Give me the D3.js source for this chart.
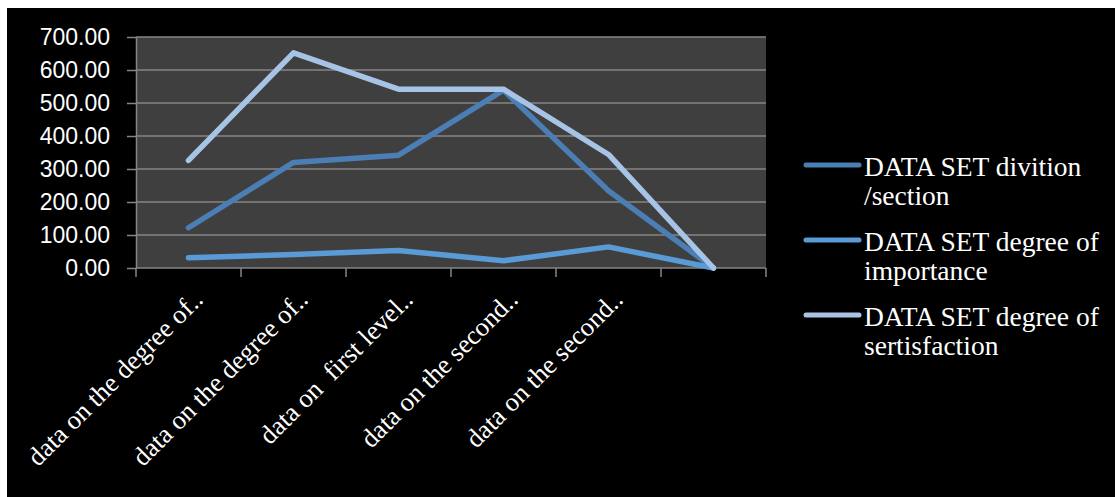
<!DOCTYPE html>
<html>
<head>
<meta charset="utf-8">
<script src="https://cdn.jsdelivr.net/npm/d3@7"></script>
<style>
  body { margin: 0; background: #fff; }
  svg { display: block; }
</style>
</head>
<body>
<script>
const categories = [
  'data on the degree of..',
  'data on the degree of..',
  'data on  first level..',
  'data on the second..',
  'data on the second..',
  ''
];
const seriesNames = [
  ['DATA SET divition', '/section'],
  ['DATA SET degree of', 'importance'],
  ['DATA SET degree of', 'sertisfaction']
];
const divitionSection = [122, 320, 342, 539, 234, 0];
const degreeImportance = [31, 41, 53, 22, 64, 0];
const degreeSatisfaction = [326, 652, 542, 542, 344, 0];
const yTicks = [0, 100, 200, 300, 400, 500, 600, 700];

const seriesColors = ['#4a7eb5', '#599bd6', '#a7c4e6'];
const allSeries = [divitionSection, degreeImportance, degreeSatisfaction];

const W = 1115, H = 497;
const margin = { top: 37, left: 136, right: 349, bottom: 229 };
const width = W - margin.left - margin.right;
const height = H - margin.top - margin.bottom;

const svg = d3.select('body').append('svg')
  .attr('width', W)
  .attr('height', H);

svg.append('rect').attr('width', W).attr('height', H).attr('fill', '#fff');
svg.append('rect').attr('x', 7).attr('y', 8)
  .attr('width', W - 7).attr('height', H - 8).attr('fill', '#000');

const g = svg.append('g')
  .attr('transform', `translate(${margin.left},${margin.top})`);

const x = d3.scaleBand().domain(d3.range(categories.length)).range([0, width]);
const y = d3.scaleLinear().domain([0, 700]).range([height, 0]);

g.append('rect').attr('width', width).attr('height', height).attr('fill', '#3f3f3f');

// gridlines
g.append('g')
  .selectAll('line')
  .data(yTicks.slice(1))
  .join('line')
  .attr('x1', 0).attr('x2', width)
  .attr('y1', d => y(d)).attr('y2', d => y(d))
  .attr('stroke', '#868686').attr('stroke-width', 1.5);

// y axis
const yAxis = g.append('g')
  .call(d3.axisLeft(y).tickValues(yTicks).tickFormat(d3.format('.2f')).tickSize(9).tickSizeOuter(0).tickPadding(17));
yAxis.select('.domain').attr('stroke', '#868686').attr('stroke-width', 1.5);
yAxis.selectAll('.tick line').attr('stroke', '#868686').attr('stroke-width', 1.5);
yAxis.selectAll('.tick text')
  .attr('fill', '#fff')
  .attr('font-family', '"Liberation Sans", Arial, sans-serif')
  .attr('font-size', 23);

// x axis line and boundary ticks
g.append('line')
  .attr('x1', 0).attr('x2', width)
  .attr('y1', height).attr('y2', height)
  .attr('stroke', '#868686').attr('stroke-width', 1.5);
g.append('g')
  .selectAll('line')
  .data(d3.range(categories.length + 1))
  .join('line')
  .attr('x1', d => d * x.bandwidth()).attr('x2', d => d * x.bandwidth())
  .attr('y1', height).attr('y2', height + 9)
  .attr('stroke', '#868686').attr('stroke-width', 1.5);

// x labels
g.append('g')
  .selectAll('text')
  .data(categories)
  .join('text')
  .attr('transform', (d, i) => `translate(${x(i) + x.bandwidth() / 2 + 16},${height + 33}) rotate(-45)`)
  .attr('text-anchor', 'end')
  .attr('fill', '#fff')
  .attr('font-family', '"Liberation Serif", "Times New Roman", serif')
  .attr('font-size', 26.5)
  .style('white-space', 'pre')
  .text(d => d);

// lines
const line = d3.line()
  .x((d, i) => x(i) + x.bandwidth() / 2)
  .y(d => y(d));

g.append('g')
  .selectAll('path')
  .data(allSeries)
  .join('path')
  .attr('d', line)
  .attr('fill', 'none')
  .attr('stroke', (d, i) => seriesColors[i])
  .attr('stroke-width', 5.5)
  .attr('stroke-linejoin', 'round')
  .attr('stroke-linecap', 'round');

// legend
const legend = svg.append('g');
const entries = legend.selectAll('g')
  .data(seriesNames)
  .join('g')
  .attr('transform', (d, i) => `translate(0,${165 + i * 75})`);
entries.append('line')
  .attr('x1', 806).attr('x2', 859)
  .attr('y1', 0).attr('y2', 0)
  .attr('stroke', (d, i) => seriesColors[i])
  .attr('stroke-width', 5)
  .attr('stroke-linecap', 'round');
entries.append('text')
  .attr('x', 864)
  .attr('y', 10.5)
  .attr('fill', '#fff')
  .attr('font-family', '"Liberation Serif", "Times New Roman", serif')
  .attr('font-size', 27.5)
  .selectAll('tspan')
  .data(d => d)
  .join('tspan')
  .attr('x', 864)
  .attr('dy', (d, i) => i === 0 ? 0 : 29.5)
  .text(d => d);
</script>
</body>
</html>
